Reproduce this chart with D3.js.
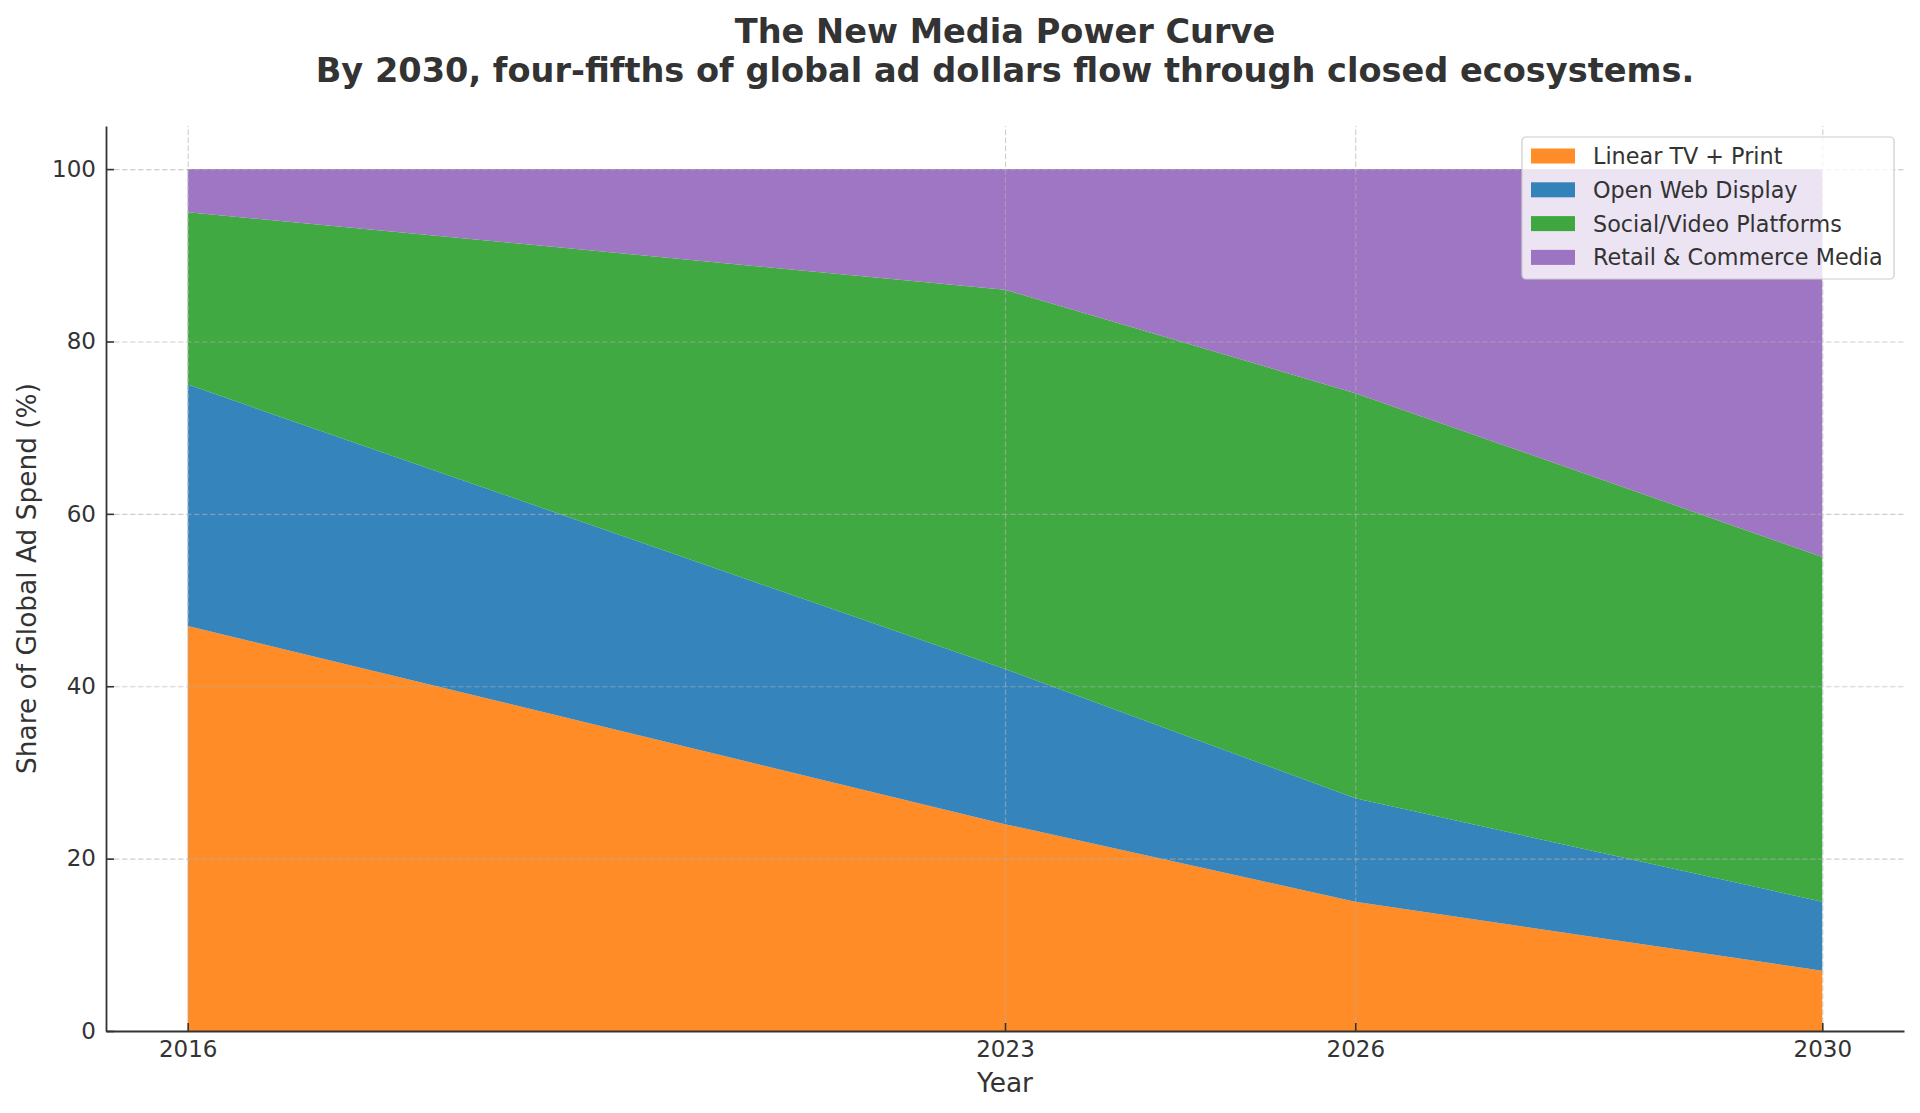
<!DOCTYPE html>
<html>
<head>
<meta charset="utf-8">
<script src="https://cdn.jsdelivr.net/npm/d3@7"></script>
<style>
  body { margin: 0; background: #fff; }
  svg { display: block; font-family: "DejaVu Sans", sans-serif; }
</style>
</head>
<body>
<script>
// data
var years = [2016, 2023, 2026, 2030];
var series = ["Linear TV + Print", "Open Web Display", "Social/Video Platforms", "Retail & Commerce Media"];
var linearTV = [47, 24, 15, 7];
var openWeb = [28, 18, 12, 8];
var socialVideo = [20, 44, 47, 40];
var retail = [5, 14, 26, 45];
var colors = ["#ff7f0e", "#1f77b4", "#2ca02c", "#9467bd"];
var yTicks = [0, 20, 40, 60, 80, 100];

var W = 1920, H = 1113;
var margin = {top: 126, right: 16, bottom: 82, left: 106};
var width = W - margin.left - margin.right;
var height = H - margin.top - margin.bottom;

var svg = d3.select("body").append("svg")
  .attr("width", W)
  .attr("height", H);

var g = svg.append("g")
  .attr("transform", "translate(" + margin.left + "," + margin.top + ")");

var rows = years.map(function(y, i) {
  return {year: y, s0: linearTV[i], s1: openWeb[i], s2: socialVideo[i], s3: retail[i]};
});
var stacked = d3.stack().keys(["s0", "s1", "s2", "s3"])(rows);

var x = d3.scaleLinear().domain([2016 - 0.7, 2030 + 0.7]).range([0, width]);
var y = d3.scaleLinear().domain([0, 105]).range([height, 0]);

var area = d3.area()
  .x(function(d) { return x(d.data.year); })
  .y0(function(d) { return y(d[0]); })
  .y1(function(d) { return y(d[1]); });

g.selectAll(".layer")
  .data(stacked)
  .enter().append("path")
  .attr("class", "layer")
  .attr("d", area)
  .attr("fill", function(d, i) { return colors[i]; })
  .attr("fill-opacity", 0.9);

// grid
g.append("g")
  .call(d3.axisLeft(y).tickValues(yTicks).tickSize(-width).tickFormat(""))
  .call(function(s) { s.select(".domain").remove(); })
  .selectAll("line")
  .attr("stroke", "#b0b0b0").attr("stroke-opacity", 0.6)
  .attr("stroke-width", 1.2).attr("stroke-dasharray", "5.5,2.5");

g.append("g")
  .attr("transform", "translate(0," + height + ")")
  .call(d3.axisBottom(x).tickValues(years).tickSize(-height).tickFormat(""))
  .call(function(s) { s.select(".domain").remove(); })
  .selectAll("line")
  .attr("stroke", "#b0b0b0").attr("stroke-opacity", 0.6)
  .attr("stroke-width", 1.2).attr("stroke-dasharray", "5.5,2.5");

// axes with inward ticks
var yAxis = g.append("g")
  .call(d3.axisLeft(y).tickValues(yTicks).tickSizeInner(-8).tickSizeOuter(0).tickPadding(10));
var xAxis = g.append("g")
  .attr("transform", "translate(0," + height + ")")
  .call(d3.axisBottom(x).tickValues(years).tickFormat(d3.format("d")).tickSizeInner(-8).tickSizeOuter(0).tickPadding(10));

[yAxis, xAxis].forEach(function(a) {
  a.select(".domain").attr("stroke", "#333").attr("stroke-width", 1.8);
  a.selectAll(".tick line").attr("stroke", "#333").attr("stroke-width", 1.6);
  a.selectAll("text").attr("font-size", 23).attr("fill", "#333")
    .attr("font-family", "DejaVu Sans");
});

// axis labels
svg.append("text")
  .attr("x", margin.left + x(2023)).attr("y", 1092)
  .attr("text-anchor", "middle")
  .attr("font-size", 26.4).attr("fill", "#333")
  .text("Year");

svg.append("text")
  .attr("transform", "translate(36," + (margin.top + height / 2) + ") rotate(-90)")
  .attr("text-anchor", "middle")
  .attr("font-size", 26.4).attr("fill", "#333")
  .text("Share of Global Ad Spend (%)");

// title
var cx = margin.left + width / 2;
svg.append("text")
  .attr("x", cx).attr("y", 43)
  .attr("text-anchor", "middle").attr("font-weight", "bold")
  .attr("font-size", 33.6).attr("fill", "#333")
  .text("The New Media Power Curve");
svg.append("text")
  .attr("x", cx).attr("y", 82)
  .attr("text-anchor", "middle").attr("font-weight", "bold")
  .attr("font-size", 33.6).attr("fill", "#333")
  .text("By 2030, four-fifths of global ad dollars flow through closed ecosystems.");

// legend
var leg = svg.append("g").attr("transform", "translate(1522,137)");
leg.append("rect")
  .attr("width", 372).attr("height", 142).attr("rx", 4)
  .attr("fill", "#fff").attr("fill-opacity", 0.8)
  .attr("stroke", "#cccccc").attr("stroke-width", 1.2);

var item = leg.selectAll(".item")
  .data(series)
  .enter().append("g")
  .attr("class", "item")
  .attr("transform", function(d, i) { return "translate(0," + (19 + i * 33.8) + ")"; });

item.append("rect")
  .attr("x", 9).attr("y", -7.5)
  .attr("width", 44).attr("height", 15)
  .attr("fill", function(d, i) { return colors[i]; })
  .attr("fill-opacity", 0.9);

item.append("text")
  .attr("x", 71).attr("y", 0)
  .attr("dy", "0.36em")
  .attr("font-size", 22.3).attr("fill", "#333")
  .text(function(d) { return d; });
</script>
</body>
</html>
